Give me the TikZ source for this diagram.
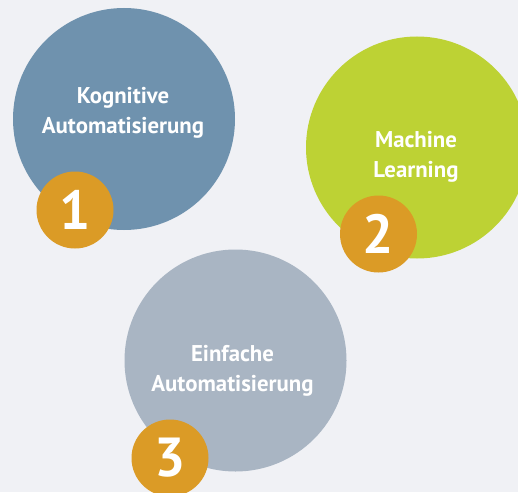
\documentclass[tikz,border=0pt]{standalone}
\usepackage{fontspec}
\setmainfont{PT Sans}
\usepackage{tikz}
\usetikzlibrary{positioning}
\definecolor{bgpanel}{RGB}{240,241,245}
\definecolor{kogblue}{RGB}{111,146,174}
\definecolor{mlgreen}{RGB}{189,210,52}
\definecolor{simplegray}{RGB}{169,181,195}
\definecolor{badgeorange}{RGB}{219,155,38}
\tikzset{
  bigdisc/.style={circle, minimum size=222pt, inner sep=0pt},
  badge/.style={circle, fill=badgeorange, minimum size=77pt, inner sep=0pt, text=white, font=\bfseries\fontsize{55}{55}\selectfont},
  disclabel/.style={align=center, text=white, inner sep=0pt, font=\bfseries\fontsize{22.8}{30}\selectfont}
}

\begin{document}
\begin{tikzpicture}[x=1pt,y=-1pt]
\fill[bgpanel] (0,0) rectangle (518,492);
\useasboundingbox (0,0) rectangle (518,492);
\clip (0,0) rectangle (518,492);

% three stages, each with its number badge
\node[bigdisc, fill=kogblue] (kog) at (124,119) {};
\node[badge] (b1) at (75,210) {1};
\node[bigdisc, fill=mlgreen] (ml) at (417,147.5) {};
\node[badge] (b2) at (378.5,234) {2};
\node[bigdisc, fill=simplegray] (simple) at (235.5,360.5) {};
\node[badge] (b3) at (170,458) {3};

\node[disclabel] (kogtext) at ([xshift=-1pt, yshift=6pt]kog.center) {Kognitive\\Automatisierung};
\node[disclabel] (mltext) at ([xshift=-1pt, yshift=-9pt]ml.center) {Machine\\Learning};
\node[disclabel] (simpletext) at ([xshift=-3pt, yshift=-10pt]simple.center) {Einfache\\Automatisierung};
\end{tikzpicture}
\end{document}
